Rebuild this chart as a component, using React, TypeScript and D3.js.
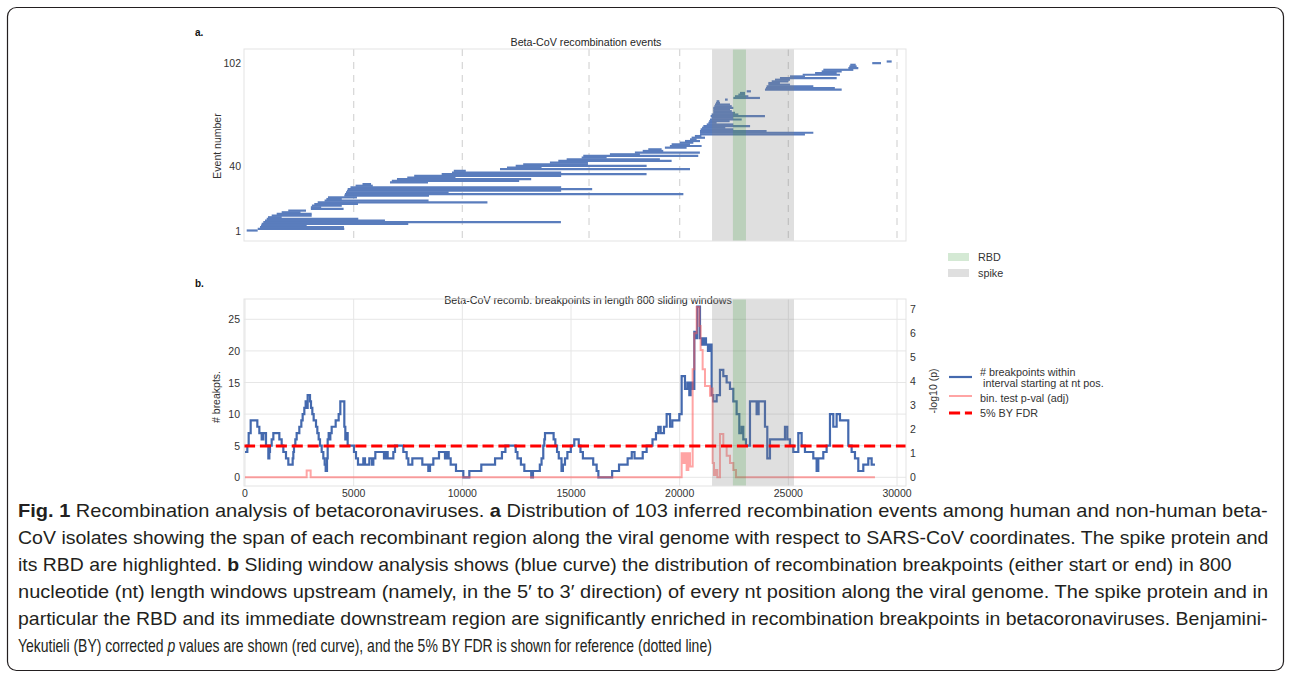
import React from 'react';
import * as d3 from 'd3';

// ---------- Panel a: recombination events (nt, SARS-CoV coordinates), event 1..103 ----------
const eventStart = [
  78, 584, 690, 736, 768, 842, 920, 998, 1058, 1228, 1458, 1688, 1990, 3030, 3030, 3078, 3188, 3345, 3662, 3744,
  3818, 4569, 4600, 4646, 4692, 4725, 4853, 5088, 5406, 6671, 6755, 6993, 7466, 7785, 9050, 9524, 9606, 11733, 12055, 12455,
  12800, 14030, 14415, 14800, 15490, 15565, 16790, 17940, 18300, 18555, 19320, 19550, 19630, 20010, 20245, 20475, 20550, 20700, 20935, 20935,
  20935, 20965, 21030, 21090, 21245, 21320, 21360, 21395, 21470, 21425, 21470, 21545, 21545, 21545, 21545, 21595, 21625, 21670, 21700, 22085,
  22470, 22545, 22700, 22775, 23085, 23925, 23970, 24000, 24080, 24080, 24235, 24385, 24615, 25075, 25660, 26230, 26535, 26610, 27760, 27805,
  27850, 28860, 29525,
];
const eventEnd = [
  584, 4568, 4554, 2838, 7512, 14536, 6440, 5212, 1688, 3068, 3068, 2554, 2806, 4537, 3505, 4453, 5200, 11155, 8446, 4453,
  5152, 8466, 20170, 9368, 14547, 15974, 14547, 5880, 5800, 8420, 12615, 13168, 9685, 14547, 18477, 14547, 10159, 20475, 13645, 18480,
  15780, 15780, 19630, 19090, 16640, 20855, 18170, 20930, 19245, 19170, 20320, 21010, 20475, 20630, 20935, 20780, 21165, 21000, 25765, 26150,
  24000, 22470, 22100, 23240, 22470, 21700, 22300, 22855, 22470, 23925, 22700, 22545, 22400, 22315, 22470, 22395, 22315, 21855, 21825, 22210,
  23695, 23160, 23005, 23005, 23280, 27455, 27140, 26150, 25075, 24615, 25000, 25075, 27225, 25765, 27375, 27225, 27455, 27990, 28220, 28145,
  28100, 29265, 29755,
];
const eventTicks = [1, 40, 102];
const gridA = [5000, 10000, 15830, 20000, 25000, 30000];

// ---------- Regions ----------
const spikeRegion = [21490, 25260];
const rbdRegion = [22450, 23050];

// ---------- Panel b: breakpoints in sliding windows (step-after) ----------
const breakPos = [
  0, 107, 169, 261, 567, 660, 767, 843, 966, 1074, 1120, 1150, 1227, 1304, 1580, 1687, 1764, 1886, 1994, 2193,
  2224, 2254, 2316, 2377, 2500, 2592, 2653, 2730, 2791, 2837, 2883, 2991, 3037, 3098, 3159, 3267, 3328, 3390, 3451, 3528,
  3604, 3666, 3712, 3773, 3804, 3850, 3896, 3926, 3988, 4172, 4310, 4386, 4570, 4616, 4662, 4724, 5015, 5107, 5199, 5444,
  5521, 5720, 5843, 5905, 5997, 6395, 6487, 6564, 6825, 6902, 7285, 7438, 7515, 7699, 8159, 8435, 8512, 8665, 8926, 9202,
  9279, 9371, 9463, 9708, 10046, 10322, 10873, 11506, 11823, 11982, 12457, 12536, 12695, 12853, 13170, 13250, 13566, 13645, 13724, 13772,
  13804, 14200, 14279, 14358, 14437, 14564, 14628, 14723, 14834, 14992, 15151, 15356, 15436, 15547, 16022, 16180, 16260, 16893, 17210, 17606,
  17796, 17923, 18300, 18480, 18750, 18910, 19018, 19125, 19278, 19401, 19557, 19662, 19984, 20091, 20244, 20352, 20444, 20505, 20597, 20674,
  20751, 20812, 20935, 21027, 21119, 21211, 21303, 21395, 21471, 21548, 21701, 21854, 22008, 22161, 22315, 22468, 22621, 22744, 22851, 22928,
  23051, 23235, 23541, 23633, 23925, 24032, 24155, 24615, 24845, 24952, 25075, 25228, 25459, 25612, 25765, 26149, 26302, 26379, 26609, 26762,
  26916, 27069, 27222, 27376, 27759, 27912, 28066, 28219, 28449, 28679, 28833, 28986,
];
const breakCount = [
  4, 5, 7, 9, 8, 7, 6, 7, 5, 3, 4, 5, 6, 7, 6, 5, 4, 3, 2, 3,
  4, 5, 6, 7, 8, 9, 10, 11, 12, 11, 13, 12, 11, 10, 9, 8, 7, 6, 5, 4,
  3, 2, 1, 3, 6, 7, 6, 7, 8, 9, 10, 12, 8, 6, 7, 5, 4, 3, 2, 3,
  2, 3, 2, 3, 4, 3, 4, 3, 4, 5, 4, 3, 2, 3, 2, 1, 2, 3, 4, 3,
  4, 3, 2, 1, 0, 1, 2, 3, 4, 5, 4, 3, 2, 1, 0, 1, 2, 3, 5, 6,
  7, 6, 5, 4, 3, 1, 2, 3, 4, 5, 6, 5, 4, 3, 2, 1, 0, 1, 2, 3,
  4, 3, 4, 5, 6, 7, 8, 7, 8, 10, 8, 9, 10, 16, 14, 15, 13, 15, 14, 23,
  22, 27, 22, 21, 22, 21, 20, 21, 13, 12, 13, 17, 16, 15, 14, 12, 10, 7, 8, 6,
  5, 12, 10, 12, 8, 3, 6, 6, 8, 6, 5, 4, 7, 5, 4, 3, 1, 3, 4, 5,
  10, 8, 10, 9, 5, 4, 3, 1, 2, 3, 2, 2,
];

// binomial test p-value (adj), -log10 scale (step-after)
const pvalPos = [
  0, 2837, 3021, 20091, 20168, 20244, 20321, 20398, 20475, 20597, 20674, 20781, 20904, 20965, 21057, 21165, 21395, 21471, 21517, 21579,
  21671, 21733, 21855, 22008, 22162, 22315, 22468, 22591, 28986,
];
const pvalLog = [
  0, 0.28, 0, 1.0, 0.6, 1.0, 0.3, 1.0, 0.45, 4.5, 6.0, 7.1, 6.3, 5.3, 4.5, 3.8, 3.4, 3.7, 0.6, 0.1,
  0.3, 0, 1.8, 1.3, 0.9, 0.6, 0.3, 0, 0,
];
const fdrLog = 1.301;

const xTicks = [0, 5000, 10000, 15000, 20000, 25000, 30000];
const yTicksLeft = [0, 5, 10, 15, 20, 25];
const yTicksRight = [0, 1, 2, 3, 4, 5, 6, 7];

type Seg = { t: string; b?: boolean; i?: boolean };
const captionLines: Seg[][] = [
  [{ t: 'Fig. 1', b: true }, { t: ' Recombination analysis of betacoronaviruses. ' }, { t: 'a', b: true }, { t: ' Distribution of 103 inferred recombination events among human and non-human beta-' }],
  [{ t: 'CoV isolates showing the span of each recombinant region along the viral genome with respect to SARS-CoV coordinates. The spike protein and' }],
  [{ t: 'its RBD are highlighted. ' }, { t: 'b', b: true }, { t: ' Sliding window analysis shows (blue curve) the distribution of recombination breakpoints (either start or end) in 800' }],
  [{ t: 'nucleotide (nt) length windows upstream (namely, in the 5\u2032 to 3\u2032 direction) of every nt position along the viral genome. The spike protein and in' }],
  [{ t: 'particular the RBD and its immediate downstream region are significantly enriched in recombination breakpoints in betacoronaviruses. Benjamini-' }],
  [{ t: 'Yekutieli (BY) corrected ' }, { t: 'p', i: true }, { t: ' values are shown (red curve), and the 5% BY FDR is shown for reference (dotted line)' }],
];
const captionWidths = [1250, 1250, 1214, 1250, 1250, 694];

const FONT = "'Liberation Sans', Arial, Helvetica, sans-serif";
const CAPFONT = "'Liberation Sans Narrow', 'Liberation Sans', Arial, sans-serif";

export default function App() {
  const x = d3.scaleLinear().domain([0, 30000]).range([245, 897]);
  const left = 244, right = 906;
  const aTop = 49, aBot = 241, bTop = 299, bBot = 486;
  const yA = d3.scaleLinear().domain([1, 103]).range([230.5, 61.5]);
  const yL = d3.scaleLinear().domain([0, 25]).range([477.3, 319.3]);
  const yR = d3.scaleLinear().domain([0, 7]).range([477.3, 309.3]);

  const capRefs = React.useRef<(SVGTextElement | null)[]>([]);
  React.useLayoutEffect(() => {
    const fit = () => {
      capRefs.current.forEach((el, i) => {
        if (!el) return;
        const w = el.getComputedTextLength();
        if (!w) return;
        const s = captionWidths[i] / w;
        el.setAttribute('transform', `translate(18,${517 + i * 27}) scale(${s},1)`);
      });
    };
    fit();
    if ((document as any).fonts && (document as any).fonts.ready) {
      (document as any).fonts.ready.then(fit);
    }
  }, []);

  const blueLine = d3.line<number>()
    .x((_, i) => x(breakPos[i]))
    .y((d) => yL(d))
    .curve(d3.curveStepAfter);
  const pinkLine = d3.line<number>()
    .x((_, i) => x(pvalPos[i]))
    .y((d) => yR(d))
    .curve(d3.curveStepAfter);

  const tickColor = '#333';
  const frameColor = '#e3e3e3';
  const gridColor = '#e6e6e6';
  const barColor = '#5a7dbd';
  const blue = '#4469ae';
  const pinkColor = '#ff5a5a';
  const spikeFill = '#7f7f7f';
  const rbdFill = '#3a9a3a';

  const bands = (top: number, bot: number) => (
    <g>
      <rect x={x(spikeRegion[0])} y={top} width={x(spikeRegion[1]) - x(spikeRegion[0])} height={bot - top} fill={spikeFill} opacity={0.25} />
      <rect x={x(rbdRegion[0])} y={top} width={x(rbdRegion[1]) - x(rbdRegion[0])} height={bot - top} fill={rbdFill} opacity={0.22} />
    </g>
  );

  return (
    <svg width={1290} height={674} style={{ position: 'absolute', left: 0, top: 0, background: '#fff' }} fontFamily={FONT}>
      <rect x={0} y={0} width={1290} height={674} fill="#fff" />
      <rect x={7.5} y={7.5} width={1276} height={663} rx={9} fill="none" stroke="#231f20" strokeWidth={1.2} />

      {/* ---------------- Panel a ---------------- */}
      <text x={195} y={36} fontSize={10} fontWeight={700} fill="#111">a.</text>
      <text x={586} y={46} fontSize={10.7} textAnchor="middle" fill="#262626">Beta-CoV recombination events</text>
      {gridA.map((g) => (
        <line key={g} x1={x(g)} x2={x(g)} y1={aTop} y2={aBot} stroke="#d9d9d9" strokeWidth={1.3} strokeDasharray="7 6" />
      ))}
      {eventStart.map((s, i) => (
        <line key={i} x1={x(s)} x2={x(eventEnd[i])} y1={yA(i + 1)} y2={yA(i + 1)} stroke={barColor} strokeWidth={2.2} />
      ))}
      {bands(aTop, aBot)}
      <rect x={left} y={aTop} width={right - left} height={aBot - aTop} fill="none" stroke={frameColor} strokeWidth={1} />
      {eventTicks.map((t) => (
        <text key={t} x={241} y={yA(t)} fontSize={10.5} textAnchor="end" dominantBaseline="central" fill={tickColor}>{t}</text>
      ))}
      <text transform="translate(221,146) rotate(-90)" fontSize={10.5} textAnchor="middle" fill={tickColor}>Event number</text>

      {/* ---------------- Legend (regions) ---------------- */}
      <rect x={948} y={253} width={21} height={8} fill={rbdFill} opacity={0.22} />
      <text x={978} y={261} fontSize={10.8} fill={tickColor}>RBD</text>
      <rect x={948} y={269} width={21} height={8} fill={spikeFill} opacity={0.25} />
      <text x={978} y={277} fontSize={10.8} fill={tickColor}>spike</text>

      {/* ---------------- Panel b ---------------- */}
      <text x={195} y={287} fontSize={10} fontWeight={700} fill="#111">b.</text>
      <text x={588} y={304} fontSize={10.7} textAnchor="middle" fill="#262626">Beta-CoV recomb. breakpoints in length 800 sliding windows</text>
      {xTicks.map((t) => (
        <line key={'gx' + t} x1={x(t)} x2={x(t)} y1={bTop} y2={bBot} stroke={gridColor} strokeWidth={1} />
      ))}
      {yTicksLeft.map((t) => (
        <line key={'gy' + t} x1={left} x2={right} y1={yL(t)} y2={yL(t)} stroke={gridColor} strokeWidth={1} />
      ))}
      <path d={blueLine(breakCount) || ''} fill="none" stroke={blue} strokeWidth={2.2} />
      <path d={pinkLine(pvalLog) || ''} fill="none" stroke={pinkColor} strokeWidth={2} opacity={0.55} />
      {bands(bTop, bBot)}
      <line x1={left} x2={right} y1={yR(fdrLog)} y2={yR(fdrLog)} stroke="#ff0000" strokeWidth={3} strokeDasharray="11.1 4.8" />
      <rect x={left} y={bTop} width={right - left} height={bBot - bTop} fill="none" stroke={frameColor} strokeWidth={1} />
      {xTicks.map((t) => (
        <text key={'tx' + t} x={x(t)} y={497} fontSize={10.5} textAnchor="middle" fill={tickColor}>{t}</text>
      ))}
      {yTicksLeft.map((t) => (
        <text key={'tl' + t} x={240} y={yL(t)} fontSize={10.5} textAnchor="end" dominantBaseline="central" fill={tickColor}>{t}</text>
      ))}
      {yTicksRight.map((t) => (
        <text key={'tr' + t} x={910} y={yR(t)} fontSize={10.5} textAnchor="start" dominantBaseline="central" fill={tickColor}>{t}</text>
      ))}
      <text transform="translate(220,397) rotate(-90)" fontSize={10.5} textAnchor="middle" fill={tickColor}># breakpts.</text>
      <text transform="translate(937,391) rotate(-90)" fontSize={10.5} textAnchor="middle" fill={tickColor}>-log10 (p)</text>

      {/* ---------------- Legend (curves) ---------------- */}
      <line x1={949} x2={972} y1={377} y2={377} stroke={blue} strokeWidth={2.2} />
      <text x={980} y={375.5} fontSize={10.8} fill={tickColor}># breakpoints within</text>
      <text x={983} y={387} fontSize={10.8} fill={tickColor}>interval starting at nt pos.</text>
      <line x1={949} x2={972} y1={396} y2={396} stroke={pinkColor} strokeWidth={2} opacity={0.55} />
      <text x={980} y={402} fontSize={10.8} fill={tickColor}>bin. test p-val (adj)</text>
      <line x1={949} x2={972} y1={413} y2={413} stroke="#ff0000" strokeWidth={3} strokeDasharray="11.1 4.8" />
      <text x={980} y={417} fontSize={10.8} fill={tickColor}>5% BY FDR</text>

      {/* ---------------- Caption ---------------- */}
      {captionLines.map((line, li) => (
        <text key={li} ref={(el) => { capRefs.current[li] = el; }} x={0} y={0}
          transform={`translate(18,${517 + li * 27})`} fontSize={17.5} fontFamily={CAPFONT} fill="#231f20">
          {line.map((seg, si) => (
            <tspan key={si} fontWeight={seg.b ? 700 : 400} fontStyle={seg.i ? 'italic' : 'normal'}>{seg.t}</tspan>
          ))}
        </text>
      ))}
    </svg>
  );
}
